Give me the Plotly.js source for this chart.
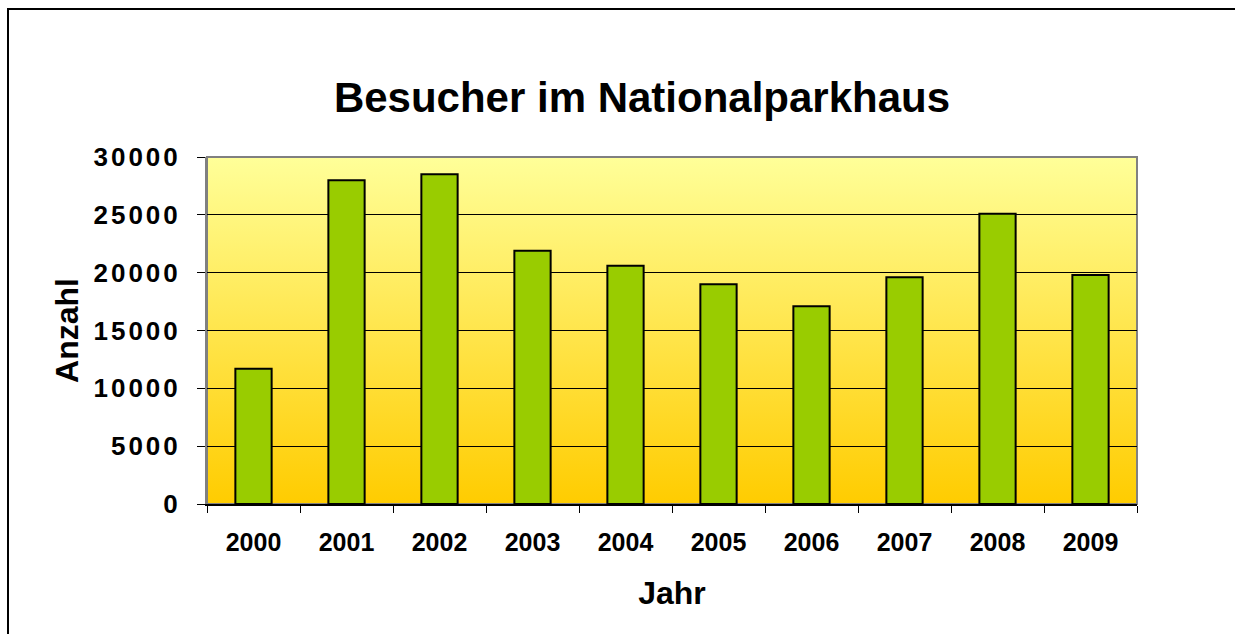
<!DOCTYPE html>
<html>
<head>
<meta charset="utf-8">
<script src="https://cdn.plot.ly/plotly-3.0.1.min.js"></script>
<style>
  html, body { margin: 0; padding: 0; background: #fff; overflow: hidden; }
  #wrap { position: relative; width: 1235px; height: 634px; overflow: hidden; }
  #chart { position: absolute; left: 0; top: 0; width: 1235px; height: 634px; }
  #frame { position: absolute; left: 7px; top: 8px; width: 1400px; height: 800px; border-left: 2px solid #000; border-top: 2px solid #000; pointer-events: none; }
  #chart .ytick text { letter-spacing: 3px; }
</style>
</head>
<body>
<div id="wrap">
  <div id="chart"></div>
  <div id="frame"></div>
</div>
<script>
const years = ['2000','2001','2002','2003','2004','2005','2006','2007','2008','2009'];
const visitors = [11700, 28000, 28500, 21900, 20600, 19000, 17100, 19600, 25100, 19800];
const yTicks = [0, 5000, 10000, 15000, 20000, 25000, 30000];

const FONT = '"Liberation Sans", Arial, sans-serif';

const gradSvg = '<svg xmlns="http://www.w3.org/2000/svg" width="100" height="100" preserveAspectRatio="none">' +
  '<defs><linearGradient id="g" x1="0" y1="0" x2="0" y2="1">' +
  '<stop offset="0" stop-color="#FFFF99"/><stop offset="1" stop-color="#FFCC00"/>' +
  '</linearGradient></defs><rect width="100" height="100" fill="url(#g)"/></svg>';
const gradUri = 'data:image/svg+xml;base64,' + btoa(gradSvg);

const trace = {
  type: 'bar',
  x: years,
  y: visitors,
  marker: { color: '#99CC00', line: { color: '#000000', width: 2 } },
  hoverinfo: 'x+y'
};

const layout = {
  width: 1235,
  height: 634,
  margin: { l: 207, r: 98, t: 157, b: 130 },
  paper_bgcolor: '#ffffff',
  plot_bgcolor: 'rgba(0,0,0,0)',
  showlegend: false,
  bargap: 0.61,
  font: { family: FONT, color: '#000' },
  title: {
    text: 'Besucher im Nationalparkhaus',
    font: { family: FONT, size: 42, color: '#000', weight: 'bold' },
    x: 642 / 1235, xref: 'container', xanchor: 'center',
    y: 1 - 112/634, yref: 'container', yanchor: 'bottom'
  },
  xaxis: {
    type: 'category',
    tickvals: years,
    ticktext: years,
    tickson: 'boundaries',
    ticks: 'outside',
    ticklen: 7,
    tickwidth: 1,
    tickcolor: '#000',
    showline: true,
    linecolor: '#000',
    linewidth: 2,
    showgrid: false,
    tickfont: { family: FONT, size: 25, color: '#000', weight: 'bold' },
    ticklabelstandoff: 15,
    automargin: false,
    title: { text: 'Jahr', font: { family: FONT, size: 32, color: '#000', weight: 'bold' }, standoff: 27 }
  },
  yaxis: {
    range: [0, 30000],
    tickvals: yTicks,
    tickformat: 'd',
    ticks: 'outside',
    ticklen: 8,
    tickwidth: 1,
    tickcolor: '#000',
    showline: true,
    linecolor: '#808080',
    linewidth: 2,
    showgrid: true,
    gridcolor: '#000',
    gridwidth: 1,
    zeroline: false,
    tickfont: { family: FONT, size: 26, color: '#000', weight: 'bold' },
    ticklabelstandoff: 11,
    automargin: false,
    title: { text: 'Anzahl', font: { family: FONT, size: 32, color: '#000', weight: 'bold' }, standoff: 20 }
  },
  images: [{
    source: gradUri, xref: 'paper', yref: 'paper',
    x: 0, y: 1, sizex: 1, sizey: 1, xanchor: 'left', yanchor: 'top',
    sizing: 'stretch', layer: 'below'
  }],
  shapes: [{
    type: 'rect', xref: 'paper', yref: 'paper', x0: 0, y0: 0, x1: 1, y1: 1,
    line: { color: '#808080', width: 2 }, fillcolor: 'rgba(0,0,0,0)', layer: 'below'
  }]
};

Plotly.newPlot('chart', [trace], layout, { displayModeBar: false, staticPlot: true });
</script>
</body>
</html>
